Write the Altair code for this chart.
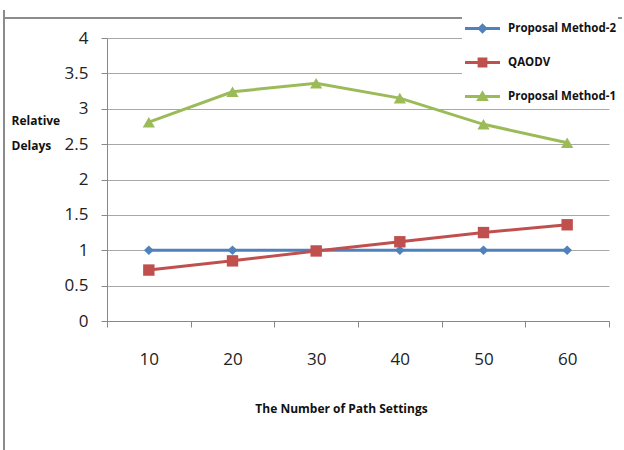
import altair as alt
import pandas as pd

x_labels = ["10", "20", "30", "40", "50", "60"]
series_names = ["Proposal Method-2", "QAODV", "Proposal Method-1"]
method2 = [1.0, 1.0, 1.0, 1.0, 1.0, 1.0]
qaodv = [0.72, 0.85, 0.99, 1.12, 1.25, 1.36]
method1 = [2.81, 3.24, 3.36, 3.15, 2.78, 2.52]
y_ticks = [0, 0.5, 1, 1.5, 2, 2.5, 3, 3.5, 4]

colors = ["#4F81BD", "#C0504D", "#9BBB59"]
shapes = ["diamond", "square", "triangle-up"]
marker_sizes = [95, 130, 150]
legend_paths = [
    "M-1,-0.085L1,-0.085L1,0.085L-1,0.085Z M0,-0.3L0.3,0L0,0.3L-0.3,0Z",
    "M-1,-0.085L1,-0.085L1,0.085L-1,0.085Z M-0.28,-0.28L0.28,-0.28L0.28,0.28L-0.28,0.28Z",
    "M-1,-0.085L1,-0.085L1,0.085L-1,0.085Z M0,-0.36L0.36,0.26L-0.36,0.26Z",
]

rows = []
for k, (name, vals) in enumerate(zip(series_names, [method2, qaodv, method1])):
    for xl, v in zip(x_labels, vals):
        rows.append({"x": xl, "value": v, "series": name, "order": k})
df = pd.DataFrame(rows)

FONT = "Open Sans"

xenc = alt.X(
    "x:N",
    sort=x_labels,
    scale=alt.Scale(paddingInner=0, paddingOuter=0),
    axis=alt.Axis(
        title="The Number of Path Settings",
        labelAngle=0,
        tickBand="extent",
        tickSize=6,
        tickColor="#888888",
        domainColor="#888888",
        labelFont=FONT,
        labelFontSize=17,
        labelColor="#222222",
        labelPadding=24,
        labelBaseline="top",
        titleFont=FONT,
        titleFontSize=12,
        titleFontWeight="bold",
        titleColor="#111111",
        titleX=234,
        titleY=87,
        titleBaseline="middle",
        grid=False,
    ),
)
yenc = alt.Y(
    "value:Q",
    scale=alt.Scale(domain=[0, 4], nice=False),
    axis=alt.Axis(
        values=y_ticks,
        format="~g",
        title=["Relative", "Delays"],
        titleAngle=0,
        titleAlign="left",
        titleBaseline="top",
        titleX=-96,
        titleY=77,
        titleLineHeight=25,
        titleFont=FONT,
        titleFontSize=12,
        titleFontWeight="bold",
        titleColor="#111111",
        tickSize=6,
        tickColor="#888888",
        domainColor="#888888",
        gridColor="#a8a8a8",
        gridWidth=1,
        labelFont=FONT,
        labelFontSize=17,
        labelColor="#222222",
        labelPadding=13,
    ),
)

base = alt.Chart(df)

layers = []
for name, col in zip(series_names, colors):
    layers.append(
        base.transform_filter(alt.datum.series == name)
        .mark_line(strokeWidth=3, color=col)
        .encode(x=xenc, y=yenc)
    )
for name, col, shp, sz in zip(series_names, colors, shapes, marker_sizes):
    layers.append(
        base.transform_filter(alt.datum.series == name)
        .mark_point(filled=True, opacity=1, shape=shp, size=sz, color=col)
        .encode(x=xenc, y=yenc)
    )

legend_layer = base.transform_filter("datum.value < 0").mark_point(filled=True, opacity=1).encode(
    x=xenc,
    y=yenc,
    color=alt.Color("series:N", scale=alt.Scale(domain=series_names, range=colors), legend=alt.Legend(title=None)),
    shape=alt.Shape("series:N", scale=alt.Scale(domain=series_names, range=legend_paths), legend=alt.Legend(title=None)),
)

frame_data = alt.Chart(pd.DataFrame({"a": [0]}))
frame_left = frame_data.mark_rect(color="#8c8c8c").encode(
    x=alt.value(-104), x2=alt.value(-102), y=alt.value(-28), y2=alt.value(420)
)
frame_top = frame_data.mark_rect(color="#8c8c8c").encode(
    x=alt.value(-104), x2=alt.value(515), y=alt.value(-21), y2=alt.value(-19)
)

chart = (
    alt.layer(*layers, legend_layer, frame_left, frame_top)
    .properties(
        width=502,
        height=283,
        autosize=alt.AutoSizeParams(type="none"),
        padding={"left": 107, "top": 38, "right": 15, "bottom": 129},
        background="white",
    )
    .configure_view(stroke=None)
    .configure_legend(
        orient="none",
        legendX=355,
        legendY=-30,
        padding=2,
        fillColor="white",
        symbolSize=1225,
        rowPadding=10,
        labelFont=FONT,
        labelFontSize=11.5,
        labelFontWeight="bold",
        labelColor="#111111",
        labelOffset=7,
        labelLimit=200,
    )
)

chart.save("out.html", embed_options={"renderer": "svg", "actions": False})
